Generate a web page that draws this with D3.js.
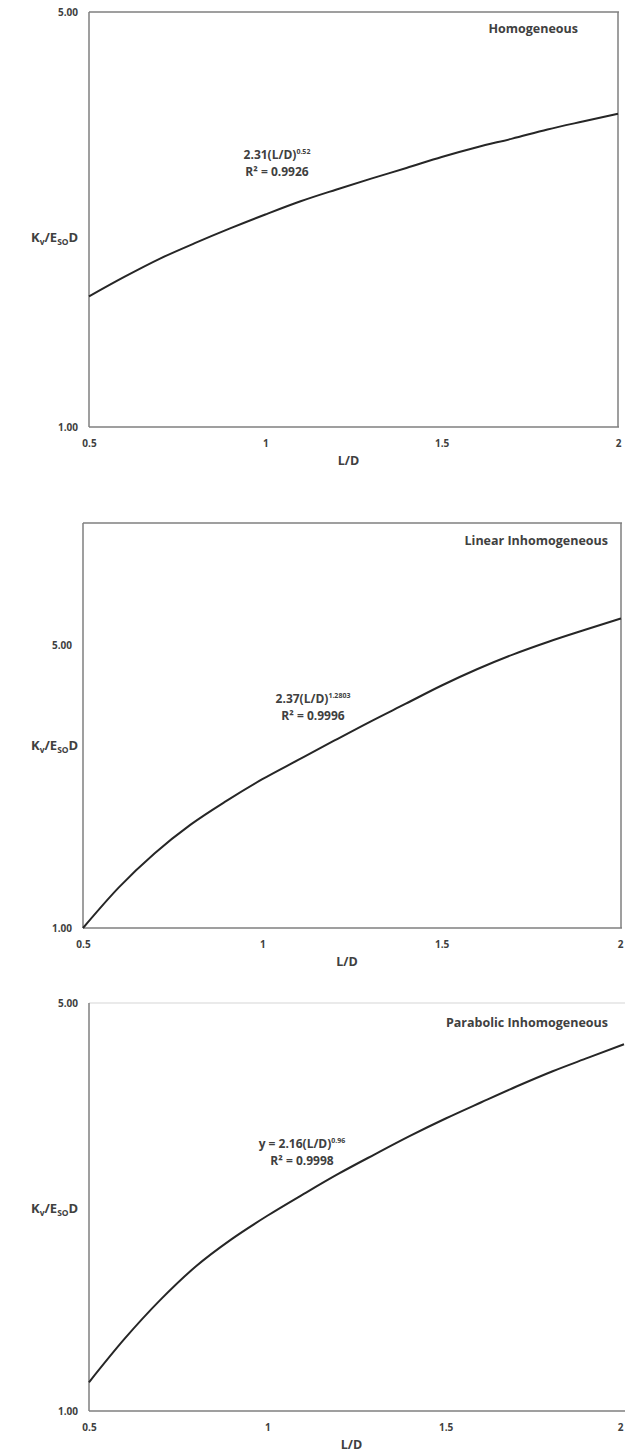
<!DOCTYPE html>
<html>
<head>
<meta charset="utf-8">
<script src="https://cdn.jsdelivr.net/npm/d3@7"></script>
<style>
  body { margin: 0; background: #fff; }
  svg text { font-family: "Open Sans", "Liberation Sans", sans-serif; font-weight: bold; fill: #404040; }
</style>
</head>
<body>
<svg id="chart" width="625" height="1456"></svg>
<script>
// L/D values (x) shared by all three curves
var ld = [0.5, 0.6, 0.7, 0.8, 0.9, 1.0, 1.1, 1.2, 1.3, 1.4, 1.5, 1.6, 1.7, 1.8, 1.9, 2.0];

// Kv/EsoD
var homogeneous = [1.66, 1.79, 1.92, 2.04, 2.16, 2.28, 2.40, 2.51, 2.62, 2.73, 2.85, 2.96, 3.06, 3.17, 3.27, 3.37];
var linearInhomogeneous = [1.00, 1.26, 1.53, 1.80, 2.06, 2.33, 2.60, 2.90, 3.23, 3.58, 3.97, 4.36, 4.74, 5.10, 5.45, 5.81];
var parabolicInhomogeneous = [1.12, 1.33, 1.55, 1.77, 1.97, 2.16, 2.35, 2.55, 2.75, 2.96, 3.17, 3.38, 3.60, 3.82, 4.03, 4.25];

var xTicks = [0.5, 1, 1.5, 2];
var xTickLabels = ["0.5", "1", "1.5", "2"];
var yTicks = [1, 5];
var yTickLabels = ["1.00", "5.00"];

var titles = ["Homogeneous", "Linear Inhomogeneous", "Parabolic Inhomogeneous"];
var fitCoef = ["2.31", "2.37", "2.16"];
var fitExp = ["0.52", "1.2803", "0.96"];
var fitPrefix = ["", "", "y = "];
var rSquared = ["0.9926", "0.9996", "0.9998"];

var W = 625;
var svg = d3.select("#chart");

function drawPanel(o) {
  var x = d3.scaleLinear().domain([0.5, 2]).range([o.left, o.right]);
  var y = d3.scaleLog().domain(o.yDomain).range([o.bottom, o.top]);
  var g = svg.append("g");

  // frame
  if (o.frame.top) g.append("line").attr("x1", o.left).attr("x2", o.right + 1).attr("y1", o.top).attr("y2", o.top)
      .attr("stroke", o.frame.topColor || "#7f7f7f").attr("stroke-width", 1.5);
  if (o.frame.right) g.append("line").attr("x1", o.right).attr("x2", o.right).attr("y1", o.top).attr("y2", o.bottom)
      .attr("stroke", "#7f7f7f").attr("stroke-width", 1.5);
  g.append("line").attr("x1", o.left).attr("x2", o.left).attr("y1", o.top).attr("y2", o.bottom)
      .attr("stroke", "#7f7f7f").attr("stroke-width", 1.5);
  g.append("line").attr("x1", o.left).attr("x2", o.right + 1).attr("y1", o.bottom).attr("y2", o.bottom)
      .attr("stroke", "#7f7f7f").attr("stroke-width", 1.5);

  // axes (labels only)
  var xa = g.append("g").attr("transform", "translate(0," + (o.bottom + 10) + ")")
      .call(d3.axisBottom(x).tickValues(xTicks).tickSize(0).tickFormat(function(d, i) { return xTickLabels[i]; }));
  xa.select(".domain").remove();
  xa.selectAll("text").style("font-size", "10px").attr("fill", "#404040").attr("dy", "0.71em")
      .attr("dx", function(d) { return x(d) + 4 > W - 1 ? (W - 1) - (x(d) + 4) : 0; });

  var ya = g.append("g").attr("transform", "translate(" + (o.left - 8) + ",0)")
      .call(d3.axisLeft(y).tickValues(yTicks).tickSize(0).tickFormat(function(d, i) { return yTickLabels[i]; }));
  ya.select(".domain").remove();
  ya.selectAll("text").style("font-size", "10px").attr("fill", "#404040");

  // curve
  var line = d3.line()
      .x(function(d) { return x(d[0]); })
      .y(function(d) { return y(d[1]); })
      .curve(d3.curveMonotoneX);
  g.append("path")
      .datum(ld.map(function(v, i) { return [v, o.values[i]]; }))
      .attr("d", line)
      .attr("fill", "none")
      .attr("stroke", "#262626")
      .attr("stroke-width", 2);

  // panel title
  g.append("text").attr("x", o.titleX).attr("y", o.titleY)
      .attr("text-anchor", "end").style("font-size", "12.5px").text(titles[o.k]);

  // trendline label
  var eq = g.append("text").attr("x", o.eqX).attr("y", o.eqY)
      .attr("text-anchor", "middle").style("font-size", "12px");
  eq.append("tspan").text(fitPrefix[o.k] + fitCoef[o.k] + "(L/D)");
  eq.append("tspan").attr("dy", -5).style("font-size", "7px").text(fitExp[o.k]);
  g.append("text").attr("x", o.eqX).attr("y", o.eqY + 17)
      .attr("text-anchor", "middle").style("font-size", "12px").text("R\u00b2 = " + rSquared[o.k]);

  // axis titles
  g.append("text").attr("x", x(1.25) - 5).attr("y", o.bottom + 38)
      .attr("text-anchor", "middle").style("font-size", "12.5px").text("L/D");

  var yt = g.append("text").attr("x", 31).attr("y", o.yTitleY).style("font-size", "13px");
  yt.append("tspan").text("K");
  yt.append("tspan").attr("dy", 3).style("font-size", "8.5px").text("v");
  yt.append("tspan").attr("dy", -3).text("/E");
  yt.append("tspan").attr("dy", 3).style("font-size", "8.5px").text("SO");
  yt.append("tspan").attr("dy", -3).text("D");
}

drawPanel({k: 0, left: 89, right: 618, top: 12, bottom: 427, yDomain: [1, 5], values: homogeneous,
  frame: {top: true, right: true}, titleX: 578, titleY: 33, eqX: 277, eqY: 159, yTitleY: 242});

drawPanel({k: 1, left: 83, right: 621, top: 523, bottom: 928, yDomain: [1, 10], values: linearInhomogeneous,
  frame: {top: true, right: true}, titleX: 608, titleY: 545, eqX: 313, eqY: 703, yTitleY: 750});

drawPanel({k: 2, left: 89, right: 624, top: 1003, bottom: 1411, yDomain: [1, 5], values: parabolicInhomogeneous,
  frame: {top: true, topColor: "#e3e3e3", right: false}, titleX: 608, titleY: 1027, eqX: 302, eqY: 1148, yTitleY: 1213});
</script>
</body>
</html>
